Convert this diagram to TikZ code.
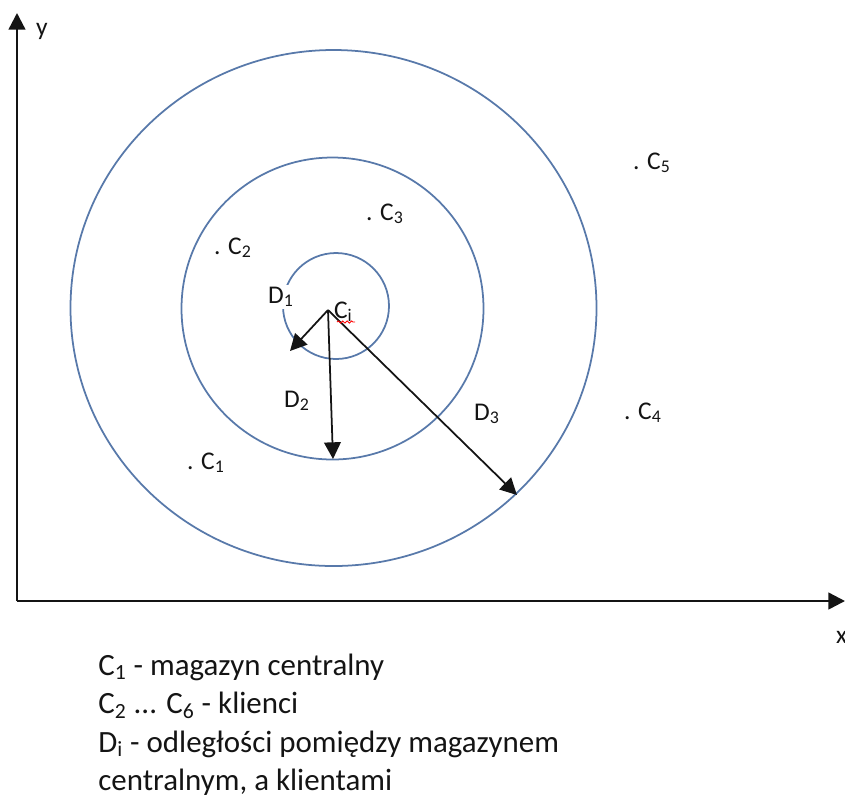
\documentclass[tikz,border=0pt]{standalone}
\usepackage{fontspec}
\setmainfont{Carlito}
\usetikzlibrary{arrows.meta, decorations.pathmorphing}
\definecolor{ringblue}{RGB}{88,121,170}
\definecolor{ink}{RGB}{20,20,20}
\tikzset{
  lbl/.style={font=\fontsize{14.5}{17}\selectfont, text=ink, inner sep=1pt, anchor=base west},
  legend/.style={font=\fontsize{17.6}{22}\selectfont, text=ink, inner sep=0pt, anchor=base west},
  ring/.style={draw=ringblue, line width=1pt},
  dist/.style={draw=ink, line width=1pt, -{Triangle[length=9.5pt,width=9.5pt]}},
  axis/.style={draw=ink, line width=1.4pt, -{Triangle[length=9.5pt,width=9.5pt]}},
}

\begin{document}
\begin{tikzpicture}[x=0.02cm, y=-0.02cm]
\useasboundingbox (0,0) rectangle (845,796);
% axes
\coordinate (o) at (17,601);
\coordinate (ytop) at (17,13);
\coordinate (xend) at (845,601);
\draw[axis] (o) -- (ytop);
\draw[axis] (o) -- (xend);
\node[lbl] (ylab) at (34,35) {y};
\node[lbl] (xlab) at (834,643) {x};
% rings
\draw[ring] (336,306) circle[radius=53];
\draw[ring] (332.5,308.5) circle[radius=151];
\draw[ring] (333.5,308) ellipse[x radius=263, y radius=258];
% distances
\coordinate (ci) at (328,310);
\coordinate (d1end) at (290,351);
\coordinate (d2end) at (333,459);
\coordinate (d3end) at (517,495);
\draw[dist] (ci) -- (d1end);
\draw[dist] (ci) -- (d2end);
\draw[dist] (ci) -- (d3end);
\node[lbl, fill=white] (d1) at (266,303) {D\textsubscript{1}};
\node[lbl] (d2) at (282,407) {D\textsubscript{2}};
\node[lbl] (d3) at (472,420) {D\textsubscript{3}};
\node[lbl] (cilab) at (332,318) {C\textsubscript{i}};
\draw[red, line width=0.5pt, decorate, decoration={snake, amplitude=0.6pt, segment length=2.5pt}]
  (337,322) -- (355,322);
% clients
\node[lbl] (c1) at (185,469) {. C\textsubscript{1}};
\node[lbl] (c2) at (212,254) {. C\textsubscript{2}};
\node[lbl] (c3) at (364,220) {. C\textsubscript{3}};
\node[lbl] (c4) at (622,419) {. C\textsubscript{4}};
\node[lbl] (c5) at (631,169) {. C\textsubscript{5}};
% legend
\node[legend] (leg1) at (98,675) {C\textsubscript{1} - magazyn centralny};
\node[legend] (leg2) at (98,713.5) {C\textsubscript{2} ... C\textsubscript{6} - klienci};
\node[legend] (leg3) at (98,752) {D\textsubscript{i} - odległości pomiędzy magazynem};
\node[legend] (leg4) at (98,790.5) {centralnym, a klientami};
\end{tikzpicture}
\end{document}
